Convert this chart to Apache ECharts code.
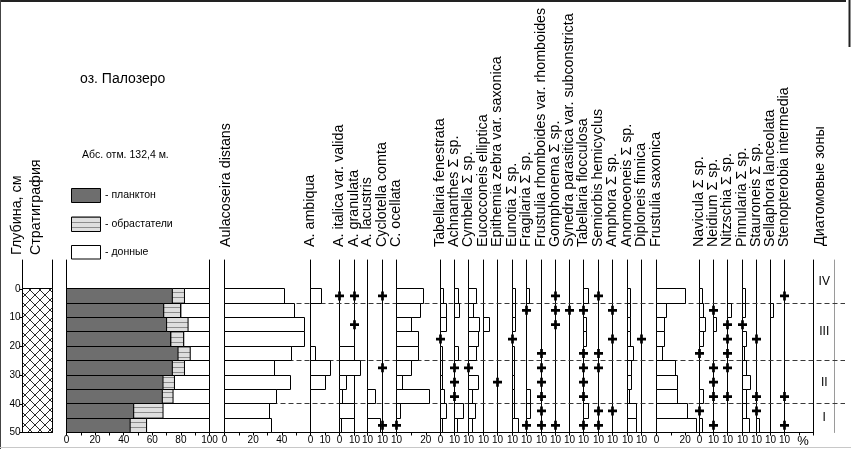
<!DOCTYPE html>
<html><head><meta charset="utf-8">
<script src="https://cdn.jsdelivr.net/npm/echarts@6/dist/echarts.min.js"></script>
<style>html,body{margin:0;padding:0;background:#fff}#c{width:851px;height:449px}</style>
</head><body><div id="c"></div>
<script>
// ================= DATA =================
const P = '+'; // taxon present (< 1 %)
const depthTop = [0, 5, 10, 15, 20, 25, 30, 35, 40, 45];   // cm, top of each sample
const sampleStep = 5;                                       // cm
const depthTicks = [0, 10, 20, 30, 40, 50];

// ecological groups, %
const plankton   = [74, 68, 70, 73, 78, 74, 67.5, 67, 47, 44.5];
const periphyton = [8.5, 12, 15, 9, 8.5, 8.5, 8, 7.5, 20.5, 11.5];
const benthic    = [17.5, 20, 15, 18, 13.5, 17.5, 24.5, 25.5, 32.5, 44];
const groupNames = ['- планктон', '- обрастатели', '- донные'];

// stratigraphy
const stratTop = [0];
const stratBottom = [50];

// diatom zones
const zoneNames  = ['IV', 'III', 'II', 'I'];
const zoneTop    = [-10, 5, 25, 40];
const zoneBottom = [5, 25, 40, 50];

// taxa, %
const aulacoseiraDistans  = [42, 49, 55.5, 56, 47, 35, 46, 36.5, 31.5, 32.5];
const aAmbiqua            = [7.5, 0, 0, 0, 3.5, 13.5, 10.5, 0, 0, 0];
const aItalicaValida      = [P, 0, 0, 0, 10, 14, 4.5, 2, 10, 1.5];
const aGranulata          = [P, 0, P, 0, 0, 0, 0, 0, 0, 0];
const aLacustris          = [0, 0, 0, 0, 0, 0, 0, 5.5, 0, 8.5];
const cyclotellaComta     = [P, 0, 0, 0, 0, P, 0, 0, 0, P];
const cOcellata           = [18.5, 16.5, 10.5, 15, 15, 10.5, 4, 22.5, 2.5, P];
const tabellariaFenestrata= [2, 4, 4, P, 1.2, 1.2, 1.2, 2.5, 4, 1.2];
const achnanthes          = [2.5, 3.5, 0, 0, 2.5, P, P, P, 6.5, 2.3];
const cymbella            = [5, 3, 7.5, 6.5, 5.2, P, 6.4, 2.5, 4.5, 2.5];
const eucocconeis         = [0, 0, 4.3, 0, 0, 0, 0, 0, 0, 0];
const epithemia           = [0, 0, 0, 0, 0, 0, P, 0, 0, 0];
const eunotia             = [2.3, 2.3, 2, P, 1.5, 1.5, 1.5, 1.5, 1.5, 4];
const fragilaria          = [2.3, P, 0, 0, 0, 0, 0, 2.5, 2.5, P];
const frustuliaRhomboides = [0, 0, 0, 0, P, P, P, P, P, P];
const gomphonema          = [P, P, P, 0, 0, 0, 0, 0, 0, P];
const synedra             = [0, P, 0, 0, 0, 0, 0, 0, 0, 0];
const tabellariaFlocculosa= [3.5, P, 2.3, 2.3, P, P, P, P, 3.5, P];
const semiorbis           = [P, 0, 0, 0, P, P, 0, 0, P, P];
const amphora             = [0, P, 0, P, 0, 0, 0, 0, P, 0];
const anomoeoneis         = [1.8, 1.8, 1.8, 2.3, 4, 2.7, 2.7, 1.3, 6.3, 6.5];
const diploneis           = [0, 0, 0, P, 0, 0, 0, 0, 0, 0];
const frustuliaSaxonica   = [20.3, 7, 5.7, 5.7, 4, 13.3, 14.9, 14.9, 21.9, 28.2];
const navicula            = [1.8, 2.9, 4.3, 2.9, P, 0, 0, 2.5, P, 2.3];
const neidium             = [0, P, 2, 0, 0, P, P, P, 0, P];
const nitzschia           = [0, 2.9, P, P, P, P, 0, P, 0, 0];
const pinnularia          = [1.8, 1.8, P, 3, 1.5, 2.8, 6, 3, 2.5, 4.9];
const stauroneis          = [0, 0, 0, P, 0, 0, 0, P, P, 2.1];
const sellaphora          = [0, 2.2, 0, 0, 0, 0, 0, 0, 0, 0];
const stenopterobia       = [P, 0, 0, 0, 0, 0, 0, P, 0, P];

const taxa = [
  ['A. ambiqua', aAmbiqua],
  ['A. italica var. valida', aItalicaValida],
  ['A. granulata', aGranulata],
  ['A. lacustris', aLacustris],
  ['Cyclotella comta', cyclotellaComta],
  ['C. ocellata', cOcellata],
  ['Tabellaria fenestrata', tabellariaFenestrata],
  ['Achnanthes Σ sp.', achnanthes],
  ['Cymbella Σ sp.', cymbella],
  ['Eucocconeis elliptica', eucocconeis],
  ['Epithemia zebra var. saxonica', epithemia],
  ['Eunotia Σ sp.', eunotia],
  ['Fragilaria Σ sp.', fragilaria],
  ['Frustulia rhomboides var. rhomboides', frustuliaRhomboides],
  ['Gomphonema Σ sp.', gomphonema],
  ['Synedra parasitica var. subconstricta', synedra],
  ['Tabellaria flocculosa', tabellariaFlocculosa],
  ['Semiorbis hemicyclus', semiorbis],
  ['Amphora Σ sp.', amphora],
  ['Anomoeoneis Σ sp.', anomoeoneis],
  ['Diploneis finnica', diploneis],
  ['Frustulia saxonica', frustuliaSaxonica],
  ['Navicula Σ sp.', navicula],
  ['Neidium Σ sp.', neidium],
  ['Nitzschia Σ sp.', nitzschia],
  ['Pinnularia Σ sp.', pinnularia],
  ['Stauroneis Σ sp.', stauroneis],
  ['Sellaphora lanceolata', sellaphora],
  ['Stenopterobia intermedia', stenopterobia]
];
// axis ranges and tick labels of each taxon panel
const taxaMax = [20, 10, 10, 10, 10, 30, 10, 10, 10, 10, 10, 10, 10, 10, 10, 10, 10, 10, 10, 10, 10, 30, 10, 10, 10, 10, 10, 10, 20];
const taxaTickLabels = [[0,10],[0,10],[10],[10],[10],[20],[0,10],[10],[10],[10],[10],[10],[10],[10],[10],[10],[10],[10],[10],[10],[],[0,20],[0,10],[10],[10],[10],[10],[10],[]];
const groupTickLabels = [0, 20, 40, 60, 80, 100];
const distansTickLabels = [0, 20, 40];

// ================= LAYOUT (px) =================
const taxaLeft = [310.5, 339.5, 354.5, 367.5, 382.5, 396.5, 440.5, 454.5, 468.5, 483.5, 497.5, 512.5, 526.5, 541.5,
                  555.5, 569.5, 583.5, 598.5, 612.5, 627.5, 641.5, 656.5, 699.5, 713.5, 727.5, 742.5, 756.5, 770.5, 784.5];
const taxaRightEnd = 813.5;
const Y_TOP = 260, Y_BOT = 432.5, CH = 449;
const FONT = '"Liberation Sans", Arial, sans-serif';
const PLANK = '#6e6e6e';

function hatchCanvas() {
  const c = document.createElement('canvas'); c.width = 8; c.height = 5;
  const g = c.getContext('2d');
  g.fillStyle = '#dedede'; g.fillRect(0, 0, 8, 5);
  g.fillStyle = '#8c8c8c'; g.fillRect(0, 2, 8, 1);
  return c;
}
function crossCanvas() {
  const c = document.createElement('canvas'); c.width = 10; c.height = 10;
  const g = c.getContext('2d');
  g.fillStyle = '#fff'; g.fillRect(0, 0, 10, 10);
  g.strokeStyle = '#2a2a2a'; g.lineWidth = 1;
  g.beginPath(); g.moveTo(-2, -2); g.lineTo(12, 12); g.moveTo(12, -2); g.lineTo(-2, 12); g.stroke();
  return c;
}
const HATCH = { image: hatchCanvas(), repeat: 'repeat' };
const CROSS = { image: crossCanvas(), repeat: 'repeat' };
const PLUS = 'path://M3.5,0H6.5V3.5H10V6.5H6.5V10H3.5V6.5H0V3.5H3.5Z';

const grids = [], xAxes = [], yAxes = [], series = [];
function addGrid(left, right, top, bottom) {
  grids.push({ left: left, width: right - left, top: top, height: bottom - top, show: false, containLabel: false, outerBoundsMode: 'none' });
  return grids.length - 1;
}
function addY(gi, extra) {
  yAxes.push(Object.assign({
    gridIndex: gi, type: 'value', inverse: true, min: -10, max: 50, position: 'left',
    axisLine: { show: true, onZero: false, lineStyle: { color: '#000', width: 1 } },
    axisTick: { show: false }, axisLabel: { show: false }, splitLine: { show: false }
  }, extra || {}));
  return yAxes.length - 1;
}
function addX(gi, max, labels, show) {
  xAxes.push({
    gridIndex: gi, type: 'value', min: 0, max: max, interval: 10, position: 'bottom', show: show !== false,
    axisLine: { show: true, onZero: false, lineStyle: { color: '#000', width: 1 } },
    axisTick: { show: true, inside: false, length: 3, lineStyle: { color: '#000', width: 1 } },
    axisLabel: { show: true, margin: 3, fontSize: 10, fontFamily: FONT, color: '#000', showMinLabel: true, showMaxLabel: true,
      formatter: function (v) { return labels.indexOf(v) >= 0 ? String(v) : ''; } },
    splitLine: { show: false }
  });
  return xAxes.length - 1;
}
function rectRender(fill) {
  return function (params, api) {
    const a = api.coord([api.value(0), api.value(2)]);
    const b = api.coord([api.value(1), api.value(3)]);
    const x0 = a[0];
    const x1 = Math.round(b[0] - 0.5) + 0.5;
    const y0 = Math.round(a[1] - 0.5) + 0.5;
    const y1 = Math.round(b[1] - 0.5) + 0.5;
    return { type: 'rect', shape: { x: x0, y: y0, width: x1 - x0, height: y1 - y0 },
      style: { fill: fill, stroke: '#000', lineWidth: 1 } };
  };
}
function addBars(xi, yi, values, fill) {
  const data = [];
  values.forEach(function (v, k) {
    if (typeof v === 'number' && v > 0) data.push([0, v, depthTop[k], depthTop[k] + sampleStep]);
  });
  series.push({ type: 'custom', xAxisIndex: xi, yAxisIndex: yi, z: 3, silent: true, clip: false,
    renderItem: rectRender(fill), data: data });
  const plus = [];
  values.forEach(function (v, k) { if (v === P) plus.push([0, depthTop[k] + sampleStep / 2]); });
  if (plus.length) series.push({ type: 'scatter', xAxisIndex: xi, yAxisIndex: yi, z: 5, silent: true,
    symbol: PLUS, symbolSize: 9, itemStyle: { color: '#000', opacity: 1 }, data: plus });
}

// ---- stratigraphy column ----
let g = addGrid(22.5, 52.5, Y_TOP, Y_BOT);
let xi = addX(g, 1, [], false);
let yi = addY(g);
addY(g, { position: 'right' });
series.push({ type: 'custom', xAxisIndex: xi, yAxisIndex: yi, z: 3, silent: true, clip: false,
  renderItem: rectRender(CROSS), data: stratTop.map(function (t, i) { return [0, 1, t, stratBottom[i]]; }) });

// ---- depth axis ----
g = addGrid(22.5, 23.5, Y_TOP + (Y_BOT - Y_TOP) / 6, Y_BOT);
addX(g, 1, [], false);
yAxes.push({ gridIndex: g, type: 'value', inverse: true, min: 0, max: 50, interval: 10, position: 'left',
  axisLine: { show: true, onZero: false, lineStyle: { color: '#000' } },
  axisTick: { show: true, length: 3, lineStyle: { color: '#000' } },
  axisLabel: { show: true, margin: 2, fontSize: 10, fontFamily: FONT, color: '#000',
    formatter: function (v) { return depthTicks.indexOf(v) >= 0 ? String(v) : ''; } },
  splitLine: { show: false } });

// ---- zone boundaries (dashed) ----
g = addGrid(224.5, 845, Y_TOP, Y_BOT);
xi = addX(g, 1, [], false);
yi = addY(g, { show: false });
series.push({ type: 'custom', xAxisIndex: xi, yAxisIndex: yi, z: 1, silent: true, clip: false,
  renderItem: function (params, api) {
    const a = api.coord([0, api.value(0)]), b = api.coord([1, api.value(0)]);
    const y = Math.round(a[1] - 0.5) + 0.5;
    return { type: 'line', shape: { x1: a[0], y1: y, x2: b[0], y2: y }, style: { stroke: '#3a3a3a', lineWidth: 1, lineDash: [5, 3] } };
  },
  data: zoneBottom.slice(0, zoneBottom.length - 1).map(function (d) { return [d]; }) });

// ---- ecological groups (stacked) ----
g = addGrid(66.5, 209.5, Y_TOP, Y_BOT);
xi = addX(g, 100, groupTickLabels);
yi = addY(g);
addY(g, { position: 'right' });
const groupVals = [plankton, periphyton, benthic];
const groupFill = [PLANK, HATCH, '#fff'];
groupVals.forEach(function (arr, s) {
  const data = arr.map(function (v, k) {
    let start = 0;
    for (let j = 0; j < s; j++) start += groupVals[j][k];
    return [start, start + v, depthTop[k], depthTop[k] + sampleStep];
  });
  series.push({ type: 'custom', xAxisIndex: xi, yAxisIndex: yi, z: 3, silent: true, clip: false,
    renderItem: rectRender(groupFill[s]), data: data });
});

// ---- Aulacoseira distans ----
g = addGrid(224.5, 310.5, Y_TOP, Y_BOT);
xi = addX(g, 60, distansTickLabels);
yi = addY(g);
addBars(xi, yi, aulacoseiraDistans, '#fff');

// ---- other taxa ----
taxa.forEach(function (t, i) {
  const right = i < taxa.length - 1 ? taxaLeft[i + 1] : taxaRightEnd;
  const gi = addGrid(taxaLeft[i], right, Y_TOP, Y_BOT);
  const x = addX(gi, taxaMax[i], taxaTickLabels[i]);
  const y = addY(gi);
  addBars(x, y, t[1], '#fff');
});

// ---- zones column ----
g = addGrid(813.5, 834, Y_TOP, Y_BOT);
xi = addX(g, 1, [], false);
yi = addY(g);
addY(g, { position: 'right', axisLine: { show: true, onZero: false, lineStyle: { color: '#9a9a9a', width: 1 } } });
series.push({ type: 'custom', xAxisIndex: xi, yAxisIndex: yi, z: 4, silent: true, clip: false,
  renderItem: function (params, api) {
    const p = api.coord([0.5, (api.value(1) + api.value(2)) / 2]);
    return { type: 'text', x: p[0] + 0.5, y: p[1], style: { text: zoneNames[params.dataIndex], fill: '#000',
      font: '12px ' + FONT, align: 'center', verticalAlign: 'middle' } };
  },
  data: zoneNames.map(function (n, i) { return [0.5, zoneTop[i], zoneBottom[i]]; }) });

// ================= TEXT / DECOR =================
const graphic = [];
function vtext(x, y, text) {
  graphic.push({ type: 'text', x: x, y: y, rotation: Math.PI / 2, silent: true,
    style: { text: text, fill: '#000', font: '14.3px ' + FONT, align: 'left', verticalAlign: 'middle' } });
}
vtext(17, 255, 'Глубина, см');
vtext(36, 255, 'Стратиграфия');
vtext(226, 247, 'Aulacoseira distans');
taxa.forEach(function (t, i) { vtext(taxaLeft[i], 247, t[0]); });
vtext(820, 246, 'Диатомовые зоны');

graphic.push({ type: 'text', x: 80, y: 79, silent: true, style: { text: 'оз. Палозеро', fill: '#000', font: '14px ' + FONT, align: 'left', verticalAlign: 'middle' } });
graphic.push({ type: 'text', x: 82, y: 155, silent: true, style: { text: 'Абс. отм. 132,4 м.', fill: '#000', font: '10.5px ' + FONT, align: 'left', verticalAlign: 'middle' } });
const legendY = [188.5, 217, 245.5];
const legendH = [14, 14.5, 13.5];
groupNames.forEach(function (n, i) {
  graphic.push({ type: 'rect', silent: true, shape: { x: 71.5, y: legendY[i], width: 29, height: legendH[i] },
    style: { fill: groupFill[i], stroke: '#000', lineWidth: 1 } });
  graphic.push({ type: 'text', x: 105, y: legendY[i] + legendH[i] / 2, silent: true,
    style: { text: n, fill: '#000', font: '10.5px ' + FONT, align: 'left', verticalAlign: 'middle' } });
});
graphic.push({ type: 'text', x: 803, y: 441, silent: true, style: { text: '%', fill: '#000', font: '13px ' + FONT, align: 'center', verticalAlign: 'middle' } });
// bottom axis segment between the two first panels
graphic.push({ type: 'line', silent: true, shape: { x1: 209.5, y1: Y_BOT, x2: 224.5, y2: Y_BOT }, style: { stroke: '#000', lineWidth: 1 } });
// frame
graphic.push({ type: 'line', silent: true, shape: { x1: 0, y1: 1, x2: 846, y2: 1 }, style: { stroke: '#222', lineWidth: 2 } });
graphic.push({ type: 'line', silent: true, shape: { x1: 849.5, y1: 0, x2: 849.5, y2: 47 }, style: { stroke: '#222', lineWidth: 2 } });
graphic.push({ type: 'line', silent: true, shape: { x1: 0.5, y1: 0, x2: 0.5, y2: 449 }, style: { stroke: '#444', lineWidth: 1 } });
graphic.push({ type: 'line', silent: true, shape: { x1: 0, y1: 447.5, x2: 851, y2: 447.5 }, style: { stroke: '#c8c8c8', lineWidth: 1 } });

const chart = echarts.init(document.getElementById('c'), null, { renderer: 'canvas' });
chart.setOption({
  animation: false,
  backgroundColor: '#fff',
  textStyle: { fontFamily: FONT },
  grid: grids, xAxis: xAxes, yAxis: yAxes, series: series,
  graphic: { elements: graphic }
});
</script>
</body></html>
